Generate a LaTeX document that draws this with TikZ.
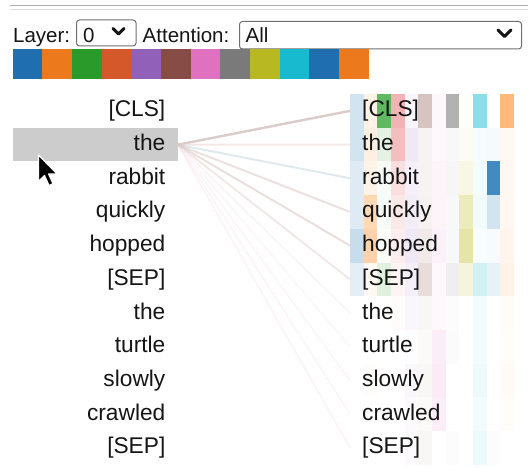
\documentclass[tikz,border=0pt]{standalone}
\usepackage{fontspec}
\setmainfont{Liberation Sans}
% head colours (tab10 cycle)
\definecolor{hd0}{HTML}{1F77B4}
\definecolor{hd1}{HTML}{FF7F0E}
\definecolor{hd2}{HTML}{2CA02C}
\definecolor{hd3}{HTML}{D62728}
\definecolor{hd4}{HTML}{9467BD}
\definecolor{hd5}{HTML}{8C564B}
\definecolor{hd6}{HTML}{E377C2}
\definecolor{hd7}{HTML}{7F7F7F}
\definecolor{hd8}{HTML}{BCBD22}
\definecolor{hd9}{HTML}{17BECF}
\definecolor{hd10}{HTML}{1F77B4}
\definecolor{hd11}{HTML}{FF7F0E}
% legend swatches
\definecolor{sw0}{HTML}{1F6FB0}
\definecolor{sw1}{HTML}{EC7A1C}
\definecolor{sw2}{HTML}{2A9A2A}
\definecolor{sw3}{HTML}{D5582A}
\definecolor{sw4}{HTML}{9160B8}
\definecolor{sw5}{HTML}{874C45}
\definecolor{sw6}{HTML}{E070C0}
\definecolor{sw7}{HTML}{7A7A7A}
\definecolor{sw8}{HTML}{B8B822}
\definecolor{sw9}{HTML}{18BAD0}
\definecolor{sw10}{HTML}{1F6FB0}
\definecolor{sw11}{HTML}{EC7A1C}
\definecolor{selgray}{HTML}{CCCCCC}
\definecolor{ink}{HTML}{151515}
\definecolor{boxline}{HTML}{6E6E6E}
\tikzset{
  tok/.style={font=\fontsize{22.7bp}{27bp}\selectfont, text=ink, text height=16.5bp, text depth=4.5bp, inner ysep=0pt},
  lefttok/.style={tok, anchor=east, inner xsep=0pt},
  righttok/.style={tok, anchor=west, inner xsep=12bp},
  uitext/.style={font=\fontsize{20.5bp}{24bp}\selectfont, text=ink, anchor=base west, inner sep=0pt},
  selectbox/.style={draw=boxline, line width=1bp, rounded corners=3bp},
  chevron/.style={line width=2.9bp, line cap=round, line join=round, draw=ink},
  attn/.style={line width=#1}
}
\begin{document}
\begin{tikzpicture}[x=1bp,y=-1bp]
\useasboundingbox (0,0) rectangle (528,468);

% top rule
\draw[color=black!32, line width=1bp] (10,6) -- (528,6);
\draw[color=black!14, line width=1.6bp] (10,9.5) -- (528,9.5);

% controls
\node[uitext] (layerlbl) at (13,42.3) {Layer:};
\draw[selectbox] (76.5,20) rectangle (136,46);
\node[uitext] (layerval) at (83,42.3) {0};
\draw[chevron] (113,28.5) -- (118.5,34) -- (124,28.5);
\node[uitext] (attnlbl) at (142.5,42.3) {Attention:};
\draw[selectbox] (239.5,21.5) rectangle (521.5,49);
\node[uitext] (attnval) at (245.5,42.5) {All};
\draw[chevron] (498,30) -- (504.5,36.5) -- (511,30);

% head colour legend
\foreach \i in {0,...,11}
  \fill[sw\i] (12.7+29.67*\i,49.3) rectangle ++(29.67,29.7);

% selected token highlight
\node[fill=selgray, minimum width=164.5bp, minimum height=33bp, inner sep=0pt, anchor=north west] (sel) at (13,128) {};

% tokens
\foreach \t [count=\i from 0] in {[CLS],the,rabbit,quickly,hopped,[SEP],the,turtle,slowly,crawled,[SEP]} {
  \node[lefttok] (L\i) at (165.5,110.85+33.7*\i) {\t};
  \coordinate (A\i) at (350,110.85+33.7*\i);
}

% attention lines from the selected token
\foreach \i/\c/\o/\w in {
  0/BFAAA5/.6/2.4, 1/EBD6D0/.55/2.0, 2/BFD3DE/.5/2.0, 3/D6BDB7/.45/2.0,
  4/D3B8B4/.45/2.0, 5/DCC5C0/.4/1.9, 6/E6DCE2/.3/1.4, 7/F2D6E0/.25/1.3,
  8/F2D2DE/.25/1.3, 9/F5CEDB/.25/1.3, 10/F5C8D6/.25/1.3} {
  \definecolor{linec}{HTML}{\c}
  \draw[color=linec, opacity=\o, attn=\w bp] (sel.east) -- (A\i);
}

% attention cells per head
\foreach \r/\vals in {
  0/{.2,.1,.75,.35,.05,.35,.06,.6,.02,.5,0,.55},
  1/{.2,.12,.12,.3,.15,.07,.05,.05,.05,.04,.04,.05},
  2/{.15,.1,.03,.15,.1,.07,.08,.07,.12,.05,.85,.06},
  3/{.15,.3,.04,.1,.12,.08,.08,.05,.3,.05,.2,.06},
  4/{.25,.35,.02,.08,.15,.12,.1,.05,.4,.03,.03,.08},
  5/{.12,.05,.15,.05,.1,.2,.05,.12,.15,.2,.1,.1},
  6/{0,0,0,.02,.05,.05,.05,.02,0,.05,0,.03},
  7/{0,0,0,0,.02,.03,.12,.03,0,.05,0,.02},
  8/{0,.02,0,0,.05,.05,.15,0,0,.08,0,.04},
  9/{0,0,0,0,.03,.03,.12,0,0,.05,0,.02},
  10/{0,0,0,0,.03,.05,0,.02,0,.08,.02,0}} {
  \foreach \a [count=\c from 0] in \vals
    \fill[hd\c, opacity=\a] (350+13.67*\c,94+33.7*\r) rectangle ++(13.67,33.7);
}

\foreach \t [count=\i from 0] in {[CLS],the,rabbit,quickly,hopped,[SEP],the,turtle,slowly,crawled,[SEP]}
  \node[righttok] (R\i) at (A\i) {\t};

% mouse pointer
\filldraw[fill=black, draw=white, line width=1.2bp, line join=round]
  (38.5,155) -- ++(0,26.5) -- ++(6,-6) -- ++(4.5,10) -- ++(4,-1.7) -- ++(-4.4,-9.8) -- ++(8.5,0) -- cycle;
\end{tikzpicture}
\end{document}
